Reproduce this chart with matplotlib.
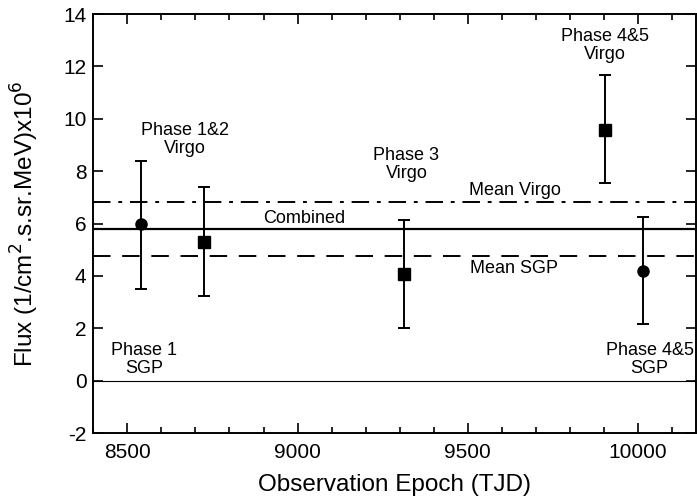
import matplotlib
matplotlib.use('Agg')
import matplotlib.pyplot as plt
from matplotlib.ticker import MultipleLocator

plt.rcParams['font.family'] = ['Liberation Sans', 'DejaVu Sans']
plt.rcParams['axes.unicode_minus'] = False

# measured points
circ_x = [8540, 10016]
circ_y = [5.97, 4.19]
circ_lo = [3.52, 2.16]
circ_hi = [8.39, 6.26]

sq_x = [8724, 9313, 9904]
sq_y = [5.28, 4.07, 9.59]
sq_lo = [3.23, 2.03, 7.55]
sq_hi = [7.38, 6.13, 11.66]

mean_virgo = 6.82
combined = 5.80
mean_sgp = 4.75

labels = ['Phase 1&2\nVirgo', 'Phase 3\nVirgo', 'Phase 4&5\nVirgo',
          'Phase 1\nSGP', 'Phase 4&5\nSGP', 'Combined', 'Mean Virgo', 'Mean SGP']
label_x = [8670, 9320, 9903, 8550, 10035, 9020, 9640, 9635]
label_y = [9.2, 8.25, 12.8, 0.8, 0.8, 6.2, 7.25, 4.3]

fig = plt.figure(figsize=(6.97, 5.03), dpi=100)
ax = fig.add_axes([0.134, 0.139, 0.864, 0.833])

ax.axhline(0, color='k', lw=0.8)
ax.axhline(combined, color='k', lw=1.6)
ax.axhline(mean_virgo, color='k', lw=1.4, dashes=(9, 4, 2, 4))
ax.axhline(mean_sgp, color='k', lw=1.4, dashes=(9, 6))

ax.errorbar(circ_x, circ_y,
            yerr=[[y - l for y, l in zip(circ_y, circ_lo)], [h - y for y, h in zip(circ_y, circ_hi)]],
            fmt='o', color='k', ms=8, elinewidth=1.4, capsize=4, capthick=1.4)
ax.errorbar(sq_x, sq_y,
            yerr=[[y - l for y, l in zip(sq_y, sq_lo)], [h - y for y, h in zip(sq_y, sq_hi)]],
            fmt='s', color='k', ms=8, elinewidth=1.4, capsize=4, capthick=1.4)

for t, x, y in zip(labels, label_x, label_y):
    ax.text(x, y, t, ha='center', va='center', fontsize=13, linespacing=1.05)

ax.set_xlim(8400, 10170)
ax.set_ylim(-2, 14)
ax.xaxis.set_major_locator(MultipleLocator(500))
ax.xaxis.set_minor_locator(MultipleLocator(100))
ax.yaxis.set_major_locator(MultipleLocator(2))
ax.tick_params(which='both', direction='in', top=True, right=True, labelsize=15, width=1.2)
ax.tick_params(which='major', length=7)
ax.tick_params(which='minor', length=4)
ax.tick_params(axis='x', pad=7)
ax.tick_params(axis='y', pad=5)
for s in ax.spines.values():
    s.set_linewidth(1.4)

ax.set_xlabel('Observation Epoch (TJD)', fontsize=17.5, labelpad=9)
ax.set_ylabel('Flux (1/cm$^2$.s.sr.MeV)x10$^6$', fontsize=17.5, labelpad=16)

fig.savefig('out.png', dpi=100)
